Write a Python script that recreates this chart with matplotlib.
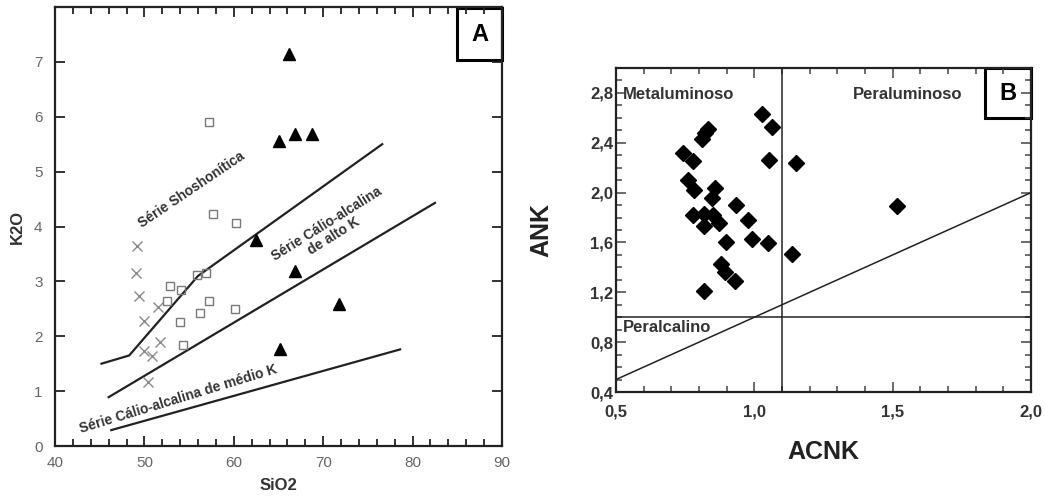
import matplotlib
matplotlib.use('Agg')
import matplotlib.pyplot as plt
from matplotlib.patches import Rectangle
from matplotlib.ticker import MultipleLocator, FixedLocator

plt.rcParams['font.family'] = ['Liberation Sans', 'DejaVu Sans']

# ---- painel A: K2O x SiO2 ----
cross_sio2 = [49.2, 49.1, 49.4, 49.9, 49.9, 50.8, 51.5, 51.7, 50.4]
cross_k2o = [3.65, 3.15, 2.74, 2.28, 1.74, 1.64, 2.53, 1.89, 1.17]

square_sio2 = [57.2, 57.7, 60.3, 52.9, 52.5, 54.1, 55.9, 56.9, 57.2, 56.2, 54.0, 54.3, 60.1]
square_k2o = [5.91, 4.22, 4.06, 2.91, 2.65, 2.84, 3.12, 3.15, 2.65, 2.43, 2.26, 1.84, 2.50]

tri_sio2 = [66.2, 65.0, 66.9, 68.8, 62.5, 66.8, 71.8, 65.2]
tri_k2o = [7.15, 5.55, 5.69, 5.68, 3.76, 3.18, 2.59, 1.76]

# limites das series
shosh_x = [45.2, 48.3, 56.0, 76.6]
shosh_y = [1.50, 1.65, 3.10, 5.50]
altok_x = [46.0, 82.5]
altok_y = [0.89, 4.43]
mediok_x = [46.3, 78.6]
mediok_y = [0.29, 1.76]

# ---- painel B: ANK x ACNK ----
acnk = [0.741, 0.779, 0.759, 0.782, 0.777, 0.818, 0.819, 0.812, 0.822, 0.834,
        0.846, 0.858, 0.850, 0.873, 0.896, 0.879, 0.894, 0.930, 0.818, 0.934,
        0.976, 0.993, 1.048, 1.028, 1.065, 1.054, 1.150, 1.135, 1.514]
ank = [2.32, 2.256, 2.10, 2.02, 1.82, 1.83, 1.73, 2.43, 2.48, 2.51,
       1.956, 2.036, 1.82, 1.76, 1.607, 1.43, 1.365, 1.29, 1.21, 1.90,
       1.78, 1.626, 1.594, 2.63, 2.53, 2.26, 2.24, 1.51, 1.89]

b_xticks = [0.5, 1.0, 1.5, 2.0]
b_xlabels = ['0,5', '1,0', '1,5', '2,0']
b_yticks = [0.4, 0.8, 1.2, 1.6, 2.0, 2.4, 2.8]
b_ylabels = ['0,4', '0,8', '1,2', '1,6', '2,0', '2,4', '2,8']

fig = plt.figure(figsize=(10.45, 4.98), dpi=100)
W, H = 1045, 498
axA = fig.add_axes([55 / W, 1 - 446 / H, 447 / W, 439 / H])
axB = fig.add_axes([616 / W, 1 - 392 / H, 415 / W, 324 / H])

dark = '#222222'
gray = '#666666'

# painel A
axA.plot(shosh_x, shosh_y, color=dark, lw=1.6)
axA.plot(altok_x, altok_y, color=dark, lw=1.6)
axA.plot(mediok_x, mediok_y, color=dark, lw=1.6)
axA.plot(cross_sio2, cross_k2o, 'x', color='#8a8a8a', ms=7, mew=1.0)
axA.plot(square_sio2, square_k2o, 's', mfc='none', mec='#7a7a7a', ms=6, mew=1.0)
axA.plot(tri_sio2, tri_k2o, '^', color='black', ms=8)

axA.set_xlim(40, 90)
axA.set_ylim(0, 8)
axA.xaxis.set_major_locator(MultipleLocator(10))
axA.xaxis.set_minor_locator(MultipleLocator(2))
axA.yaxis.set_major_locator(FixedLocator([0, 1, 2, 3, 4, 5, 6, 7]))
axA.tick_params(which='both', direction='in', top=True, right=True, color=dark, width=1.3)
axA.tick_params(which='major', length=7, labelsize=11, labelcolor=gray)
axA.tick_params(which='minor', length=5)
axA.tick_params(axis='x', pad=7)
axA.tick_params(axis='y', pad=9)
for s in axA.spines.values():
    s.set_linewidth(1.6)
    s.set_color(dark)
axA.set_xlabel('SiO2', fontsize=12, fontweight='bold', color='#333333')
axA.set_ylabel('K2O', fontsize=12, fontweight='bold', color='#333333')
axA.xaxis.set_label_coords(0.5, -0.073)
axA.yaxis.set_label_coords(-0.067, 0.5)

txt = dict(fontsize=10, fontweight='bold', color='#333333', ha='center', va='center',
           rotation_mode='anchor')
axA.text(55.3, 4.67, 'Série Shoshonítica', rotation=34, **txt)
axA.text(70.8, 3.94, 'Série Cálio-alcalina\nde alto K', rotation=32, linespacing=1.0, **txt)
axA.text(53.8, 0.86, 'Série Cálio-alcalina de médio K', rotation=17, **txt)

axA.add_patch(Rectangle((0.899, 0.879), 0.101, 0.119, transform=axA.transAxes,
                        fill=False, lw=2.2, ec='black', clip_on=False))
axA.text(0.9495, 0.938, 'A', transform=axA.transAxes, ha='center', va='center',
         fontsize=17, fontweight='bold')

# painel B
axB.axvline(1.1, color=dark, lw=1.1)
axB.axhline(1.0, color=dark, lw=1.1)
axB.plot([0.5, 2.0], [0.5, 2.0], color=dark, lw=1.1)
axB.plot(acnk, ank, 'D', color='black', ms=8.5)

axB.set_xlim(0.5, 2.0)
axB.set_ylim(0.4, 3.0)
axB.set_xticks(b_xticks)
axB.set_xticklabels(b_xlabels)
axB.set_yticks(b_yticks)
axB.set_yticklabels(b_ylabels)
axB.xaxis.set_minor_locator(MultipleLocator(0.1))
axB.yaxis.set_minor_locator(MultipleLocator(0.1))
axB.tick_params(which='both', direction='in', top=True, right=True, color='#444444', width=1.1)
axB.tick_params(which='major', length=7, labelsize=12, labelcolor='#333333')
axB.tick_params(which='minor', length=4)
axB.tick_params(axis='x', pad=9)
axB.tick_params(axis='y', pad=2)
for lab in axB.get_xticklabels() + axB.get_yticklabels():
    lab.set_fontweight('bold')
for s in axB.spines.values():
    s.set_linewidth(1.6)
    s.set_color(dark)
axB.set_xlabel('ACNK', fontsize=18, fontweight='bold', color='#222222')
axB.set_ylabel('ANK', fontsize=18, fontweight='bold', color='#222222')
axB.xaxis.set_label_coords(0.5, -0.148)
axB.yaxis.set_label_coords(-0.15, 0.5)

lbl = dict(fontsize=12, fontweight='bold', color='#333333', ha='left', va='center')
axB.text(0.525, 2.79, 'Metaluminoso', **lbl)
axB.text(1.355, 2.79, 'Peraluminoso', **lbl)
axB.text(0.525, 0.918, 'Peralcalino', **lbl)

axB.add_patch(Rectangle((0.889, 0.845), 0.111, 0.155, transform=axB.transAxes,
                        fill=False, lw=2.2, ec='black', clip_on=False))
axB.text(0.9445, 0.922, 'B', transform=axB.transAxes, ha='center', va='center',
         fontsize=17, fontweight='bold')

fig.savefig('out.png', dpi=100)
